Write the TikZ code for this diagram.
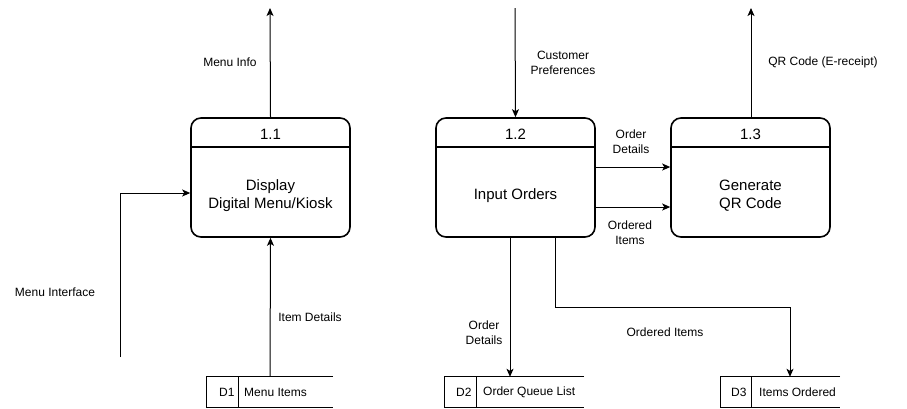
\documentclass[tikz,border=0pt]{standalone}
\usepackage{fontspec}
\setmainfont{Liberation Sans}
\usetikzlibrary{arrows.meta}
\begin{document}
\begin{tikzpicture}[x=1pt,y=-1pt,
  proc/.style={draw,line width=1.6pt,rounded corners=10pt,minimum width=159pt,minimum height=119pt,inner sep=0pt},
  ptext/.style={font=\fontsize{15}{18}\selectfont,align=center},
  lbl/.style={font=\fontsize{12}{15}\selectfont,align=center},
  stxt/.style={font=\fontsize{12}{15}\selectfont,anchor=west,inner sep=0pt},
  arr/.style={line width=1pt,-{Stealth[length=8pt,width=7pt,inset=2pt]}},
  ln/.style={line width=1pt}]
\useasboundingbox (0,0) rectangle (907,408);
% processes
\node[proc] (p1) at (270.5,177.5) {};
\node[proc] (p2) at (515.5,177.5) {};
\node[proc] (p3) at (750.5,177.5) {};
\foreach \p in {p1,p2,p3}{
  \draw[line width=1.6pt] (\p.west |- 0,147) -- (\p.east |- 0,147);
}
\node[ptext] (h1) at (270.5,134) {1.1};
\node[ptext] (h2) at (515.5,134) {1.2};
\node[ptext] (h3) at (750.5,134) {1.3};
\node[ptext] (t1) at (270.5,195.5) {Display\\Digital Menu/Kiosk};
\node[ptext] (t2) at (515.5,195.5) {Input Orders};
\node[ptext] (t3) at (750.5,195.5) {Generate\\QR Code};
% data stores
\node[minimum width=126pt,minimum height=30pt,inner sep=0pt] (d1) at (270,392) {};
\node[minimum width=139pt,minimum height=30pt,inner sep=0pt] (d2) at (514.5,392) {};
\node[minimum width=119pt,minimum height=30pt,inner sep=0pt] (d3) at (780.5,392) {};
\draw[ln] (d1.north east) -- (d1.north west) -- (d1.south west) -- (d1.south east);
\draw[ln] (238,377) -- (238,407);
\draw[ln] (d2.north east) -- (d2.north west) -- (d2.south west) -- (d2.south east);
\draw[ln] (476,377) -- (476,407);
\draw[ln] (d3.north east) -- (d3.north west) -- (d3.south west) -- (d3.south east);
\draw[ln] (751,377) -- (751,407);
\node[stxt] (s1a) at (219,392.5) {D1};
\node[stxt] (s1b) at (244,392.5) {Menu Items};
\node[stxt] (s2a) at (456,392.5) {D2};
\node[stxt] (s2b) at (483,392.5) {Order Queue List};
\node[stxt] (s3a) at (731,392.5) {D3};
\node[stxt] (s3b) at (759,392.5) {Items Ordered};
% free ends
\coordinate (e1) at (270,8);
\coordinate (e2) at (515,8);
\coordinate (e3) at (751,8);
\coordinate (mi) at (120,357);
\coordinate (mib) at (120,193);
\coordinate (x510) at (510,0);
\coordinate (x555) at (555,0);
\coordinate (c1) at (555,307);
\coordinate (c2) at (790,307);
\coordinate (x790) at (790,0);
\coordinate (y167) at (0,167);
\coordinate (y207) at (0,207);
% connectors
\draw[arr] (p1.north) -- (e1);
\draw[arr] (d1.north) -- (p1.south);
\draw[arr] (mi) -- (mib) -- (mib -| p1.west);
\draw[arr] (e2) -- (p2.north);
\draw[arr] (p2.east |- y167) -- (p3.west |- y167);
\draw[arr] (p2.east |- y207) -- (p3.west |- y207);
\draw[arr] (p3.north -| e3) -- (e3);
\draw[arr] (p2.south -| x510) -- (d2.north -| x510);
\draw[arr] (p2.south -| x555) -- (c1) -- (c2) -- (d3.north -| x790);
% labels
\node[lbl] (l1) at (230,62) {Menu Info};
\node[lbl] (l2) at (55,292) {Menu Interface};
\node[lbl] (l3) at (310,317) {Item Details};
\node[lbl] (l4) at (563,63) {Customer\\Preferences};
\node[lbl] (l5) at (631,142) {Order\\Details};
\node[lbl] (l6) at (630,233) {Ordered\\Items};
\node[lbl] (l7) at (823,62) {QR Code (E-receipt)};
\node[lbl] (l8) at (484,333) {Order\\Details};
\node[lbl] (l9) at (665,332) {Ordered Items};
\end{tikzpicture}
\end{document}
